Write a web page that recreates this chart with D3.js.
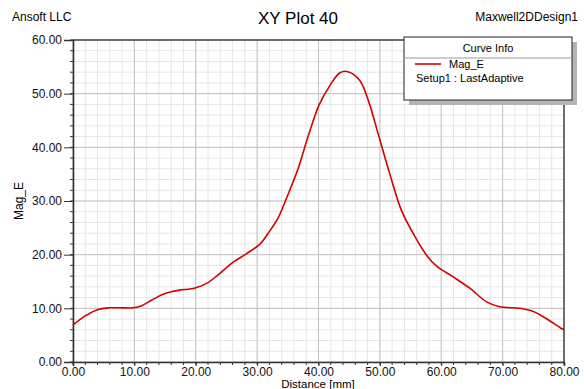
<!DOCTYPE html>
<html lang="en">
<head>
<meta charset="UTF-8">
<title>XY Plot 40</title>
<script src="https://cdn.jsdelivr.net/npm/d3@7.8.5/dist/d3.min.js"></script>
<style>
    body { margin: 0; background: #fff; font-family: "Liberation Sans", Arial, sans-serif; }
    svg { display: block; }
</style>
</head>
<body>
<div id="chart"></div>
<script>
    // Mag_E along the line
    const distance = [0, 2, 4.1, 5.8, 7.5, 9.8, 11.2, 12.8, 14.4, 16, 17.4, 19.9, 22, 23.7, 26.1, 28.3, 30.5, 31.8,
        33.4, 35.1, 36.7, 38.3, 40.1, 41.9, 43.5, 44.8, 46.7, 48.1, 49.7, 51.6, 53.5, 55.4, 57.6, 59.2,
        61.9, 64.7, 67.4, 69.5, 72.8, 75, 77.1, 79.5, 80];
    const magE = [6.9, 8.6, 9.8, 10.1, 10.1, 10.1, 10.5, 11.5, 12.5, 13.1, 13.4, 13.8, 14.8, 16.3, 18.6, 20.2, 22, 24,
        26.8, 31.4, 36.1, 42, 47.9, 51.6, 53.9, 54.1, 52.5, 48.8, 42.6, 35.1, 28.3, 24, 19.9, 17.9,
        15.9, 13.7, 11.2, 10.3, 10, 9.4, 8.1, 6.3, 6];
    const xTicks = [0, 10, 20, 30, 40, 50, 60, 70, 80];
    const yTicks = [0, 10, 20, 30, 40, 50, 60];

    const W = 584, H = 389;
    const margin = {top: 40, right: 20, bottom: 27, left: 73};
    const width = W - margin.left - margin.right;
    const height = H - margin.top - margin.bottom;

    const svg = d3.select("#chart").append("svg")
        .attr("width", W).attr("height", H);

    const g = svg.append("g").attr("transform", `translate(${margin.left},${margin.top})`);

    const x = d3.scaleLinear().domain([0, 80]).range([0, width]);
    const y = d3.scaleLinear().domain([0, 60]).range([height, 0]);

    const minor = d3.range(0, 81, 2);
    const minorY = d3.range(0, 61, 2);

    // minor grid
    g.append("g").selectAll("line").data(minor).enter().append("line")
        .attr("x1", d => x(d)).attr("x2", d => x(d)).attr("y1", 0).attr("y2", height)
        .attr("stroke", "#e6e6e6");
    g.append("g").selectAll("line").data(minorY).enter().append("line")
        .attr("y1", d => y(d)).attr("y2", d => y(d)).attr("x1", 0).attr("x2", width)
        .attr("stroke", "#e6e6e6");
    // major grid
    g.append("g").selectAll("line").data(xTicks).enter().append("line")
        .attr("x1", d => x(d)).attr("x2", d => x(d)).attr("y1", 0).attr("y2", height)
        .attr("stroke", "#c4c4c4");
    g.append("g").selectAll("line").data(yTicks).enter().append("line")
        .attr("y1", d => y(d)).attr("y2", d => y(d)).attr("x1", 0).attr("x2", width)
        .attr("stroke", "#c4c4c4");

    // top and right border
    g.append("line").attr("x1", 0).attr("x2", width).attr("y1", 0).attr("y2", 0).attr("stroke", "#000");
    g.append("line").attr("x1", width).attr("x2", width).attr("y1", 0).attr("y2", height).attr("stroke", "#000");

    // axes
    const fmt = d3.format(".2f");
    const xAxis = g.append("g").attr("transform", `translate(0,${height})`)
        .call(d3.axisBottom(x).tickValues(xTicks).tickFormat(fmt).tickSize(4).tickPadding(1));
    const yAxis = g.append("g")
        .call(d3.axisLeft(y).tickValues(yTicks).tickFormat(fmt).tickSize(9).tickPadding(2));
    // minor ticks
    g.append("g").selectAll("line").data(minor).enter().append("line")
        .attr("x1", d => x(d)).attr("x2", d => x(d)).attr("y1", height).attr("y2", height + 3)
        .attr("stroke", "#333");
    g.append("g").selectAll("line").data(minorY).enter().append("line")
        .attr("y1", d => y(d)).attr("y2", d => y(d)).attr("x1", -3).attr("x2", 0)
        .attr("stroke", "#333");

    [xAxis, yAxis].forEach(a => {
        a.select(".domain").attr("stroke", "#333").attr("stroke-width", 1.6);
        a.selectAll(".tick line").attr("stroke", "#333");
        a.selectAll("text").attr("font-size", 12).attr("fill", "#111")
            .attr("font-family", "Liberation Sans, Arial, sans-serif");
    });

    // curve
    const pts = distance.map((d, i) => [d, magE[i]]);
    g.append("path").datum(pts)
        .attr("fill", "none").attr("stroke", "#d40000").attr("stroke-width", 1.6)
        .attr("d", d3.line().x(d => x(d[0])).y(d => y(d[1])).curve(d3.curveCatmullRom.alpha(0.5)));

    // titles
    svg.append("text").attr("x", 12).attr("y", 21).attr("font-size", 12).text("Ansoft LLC");
    svg.append("text").attr("x", 298).attr("y", 24).attr("font-size", 17).attr("text-anchor", "middle").text("XY Plot 40");
    svg.append("text").attr("x", 578).attr("y", 21).attr("font-size", 12).attr("text-anchor", "end").text("Maxwell2DDesign1");
    svg.append("text").attr("x", 318).attr("y", 388).attr("font-size", 11.5).attr("text-anchor", "middle").text("Distance [mm]");
    svg.append("text").attr("transform", "translate(23,201) rotate(-90)").attr("font-size", 12)
        .attr("text-anchor", "middle").text("Mag_E");

    // legend box
    const leg = svg.append("g").attr("transform", "translate(404,37)");
    leg.append("rect").attr("x", 5).attr("y", 5).attr("width", 168).attr("height", 63).attr("fill", "#b4b4b4");
    leg.append("rect").attr("x", 0).attr("y", 0).attr("width", 168).attr("height", 63)
        .attr("fill", "#fff").attr("stroke", "#222");
    leg.append("line").attr("x1", 0).attr("x2", 168).attr("y1", 21).attr("y2", 21).attr("stroke", "#999");
    leg.append("text").attr("x", 84).attr("y", 15).attr("font-size", 11).attr("text-anchor", "middle").text("Curve Info");
    leg.append("line").attr("x1", 11).attr("x2", 37).attr("y1", 27).attr("y2", 27)
        .attr("stroke", "#d40000").attr("stroke-width", 1.6);
    leg.append("text").attr("x", 45).attr("y", 31).attr("font-size", 11).text("Mag_E");
    leg.append("text").attr("x", 12).attr("y", 45).attr("font-size", 11).text("Setup1 : LastAdaptive");
</script>
</body>
</html>
